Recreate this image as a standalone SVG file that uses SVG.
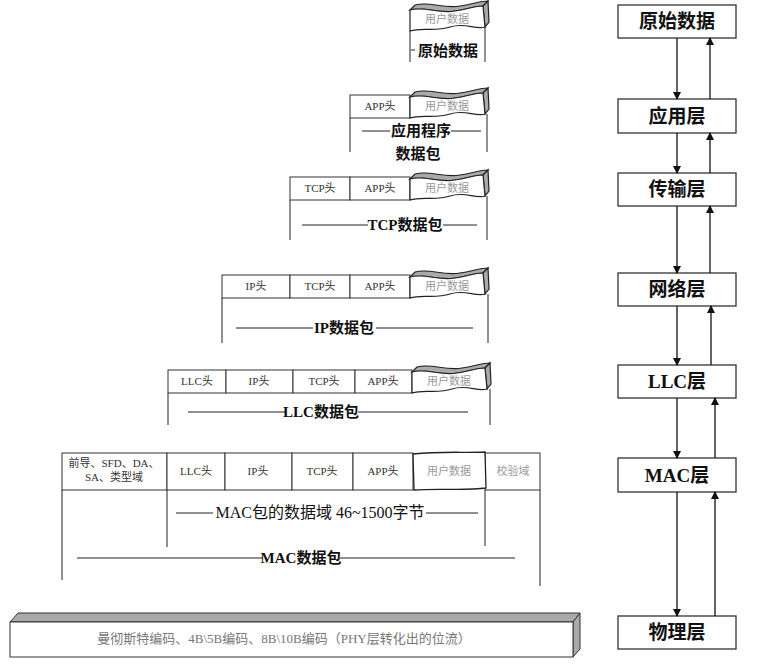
<svg xmlns="http://www.w3.org/2000/svg" width="777" height="668" viewBox="0 0 777 668">
<style>
.c{fill:#fff;stroke:#333;stroke-width:1}
.l{stroke:#222;stroke-width:1;fill:none}
.t{font-family:"Liberation Serif","Noto Sans CJK SC",serif;font-size:11px;fill:#333;text-anchor:middle}
.u{font-family:"Liberation Serif","Noto Sans CJK SC",serif;font-size:11px;fill:#999;text-anchor:middle}
.b{font-family:"Liberation Serif","Noto Sans CJK SC",serif;font-size:15px;font-weight:bold;fill:#111;text-anchor:middle}
.n{font-family:"Liberation Serif","Noto Sans CJK SC",serif;font-size:16px;fill:#111;text-anchor:middle}
.box{fill:#fff;stroke:#333;stroke-width:1.3}
.bt{font-family:"Liberation Serif","Noto Sans CJK SC",serif;font-size:19px;font-weight:bold;fill:#111;text-anchor:middle}
.a{stroke:#111;stroke-width:1.3;fill:none}
</style>
<defs>
<g id="wave">
<path d="M0,2 L5,-3 C20,-7 33,1 50,-2 C63,-4 70,-7 78,-7 L73,-2 C65,-2 58,1 45,3 C28,6 15,-2 0,2 Z" fill="#aaa" stroke="#222" stroke-width="1.2"/>
<path d="M73,-2 L78,-7 L79,14 L75,19 Z" fill="#aaa" stroke="#222" stroke-width="1.2"/>
<path d="M0,2 C15,-2 28,6 45,3 C58,1 65,-2 73,-2 L75,19 C65,22 55,14 40,19 C25,24 12,19 0,23 Z" fill="#fff" stroke="#222" stroke-width="1.2"/>
<text x="37" y="15" class="u">用户数据</text>
</g>
<marker id="ah" markerWidth="8" markerHeight="8" refX="7" refY="4" orient="auto" markerUnits="userSpaceOnUse">
<path d="M0,0 L8,4 L0,8 Z" fill="#111"/>
</marker>
</defs>

<g id="row1">
<use href="#wave" transform="translate(410,8)"/>
<line class="l" x1="410" y1="31" x2="410" y2="62"/>
<line class="l" x1="485" y1="27" x2="485" y2="62"/>
<line class="l" x1="411" y1="50" x2="415" y2="50"/>
<text x="448" y="56" class="b">原始数据</text>
</g>

<g id="row2">
<rect class="c" x="350" y="95" width="60" height="23"/>
<text x="380" y="110" class="t">APP头</text>
<use href="#wave" transform="translate(410,95)"/>
<line class="l" x1="350" y1="118" x2="350" y2="152"/>
<line class="l" x1="487" y1="114" x2="487" y2="152"/>
<line class="l" x1="362" y1="131" x2="390" y2="131"/>
<line class="l" x1="451" y1="131" x2="481" y2="131"/>
<text x="421" y="136" class="b">应用程序</text>
<text x="418" y="159" class="b">数据包</text>
</g>

<g id="row3">
<rect class="c" x="290" y="177" width="60" height="23"/>
<rect class="c" x="350" y="177" width="60" height="23"/>
<text x="320" y="192" class="t">TCP头</text>
<text x="380" y="192" class="t">APP头</text>
<use href="#wave" transform="translate(410,177)"/>
<line class="l" x1="290" y1="200" x2="290" y2="240"/>
<line class="l" x1="487" y1="196" x2="487" y2="240"/>
<line class="l" x1="302" y1="225" x2="368" y2="225"/>
<line class="l" x1="443" y1="225" x2="477" y2="225"/>
<text x="405" y="230" class="b">TCP数据包</text>
</g>

<g id="row4">
<rect class="c" x="222" y="275" width="68" height="23"/>
<rect class="c" x="290" y="275" width="60" height="23"/>
<rect class="c" x="350" y="275" width="60" height="23"/>
<text x="256" y="290" class="t">IP头</text>
<text x="320" y="290" class="t">TCP头</text>
<text x="380" y="290" class="t">APP头</text>
<use href="#wave" transform="translate(410,275)"/>
<line class="l" x1="222" y1="298" x2="222" y2="343"/>
<line class="l" x1="488" y1="294" x2="488" y2="343"/>
<line class="l" x1="236" y1="328" x2="313" y2="328"/>
<line class="l" x1="376" y1="328" x2="473" y2="328"/>
<text x="344" y="333" class="b">IP数据包</text>
</g>

<g id="row5">
<rect class="c" x="168" y="370" width="58" height="23"/>
<rect class="c" x="226" y="370" width="67" height="23"/>
<rect class="c" x="293" y="370" width="62" height="23"/>
<rect class="c" x="355" y="370" width="57" height="23"/>
<text x="197" y="385" class="t">LLC头</text>
<text x="259" y="385" class="t">IP头</text>
<text x="324" y="385" class="t">TCP头</text>
<text x="383" y="385" class="t">APP头</text>
<use href="#wave" transform="translate(412,370)"/>
<line class="l" x1="168" y1="393" x2="168" y2="425"/>
<line class="l" x1="490" y1="389" x2="490" y2="425"/>
<line class="l" x1="188" y1="412" x2="285" y2="412"/>
<line class="l" x1="358" y1="412" x2="468" y2="412"/>
<text x="321" y="417" class="b">LLC数据包</text>
</g>

<g id="row6">
<rect class="c" x="62" y="453" width="105" height="37"/>
<rect class="c" x="167" y="453" width="58" height="37"/>
<rect class="c" x="225" y="453" width="67" height="37"/>
<rect class="c" x="292" y="453" width="61" height="37" stroke-width="1.4"/>
<rect class="c" x="353" y="453" width="60" height="37"/>
<rect class="c" x="485" y="453" width="55" height="37"/>
<path d="M413,454 C440,451 465,453 485,452 L486,488 C465,491 440,488 414,490 Z" fill="#fff" stroke="#222" stroke-width="1.3"/>
<text x="114" y="467" class="t" font-size="10">前导、SFD、DA、</text>
<text x="114" y="481" class="t" font-size="10">SA、类型域</text>
<text x="196" y="475" class="t">LLC头</text>
<text x="258" y="475" class="t">IP头</text>
<text x="322" y="475" class="t">TCP头</text>
<text x="383" y="475" class="t">APP头</text>
<text x="449" y="475" class="u">用户数据</text>
<text x="513" y="475" class="u">校验域</text>
<line class="l" x1="62" y1="490" x2="62" y2="580"/>
<line class="l" x1="167" y1="490" x2="167" y2="547"/>
<line class="l" x1="485" y1="490" x2="485" y2="546"/>
<line class="l" x1="540" y1="490" x2="540" y2="586"/>
<line class="l" x1="176" y1="513" x2="213" y2="513"/>
<line class="l" x1="426" y1="513" x2="478" y2="513"/>
<text x="320" y="518" class="n">MAC包的数据域 46~1500字节</text>
<line class="l" x1="77" y1="558" x2="263" y2="558"/>
<line class="l" x1="340" y1="558" x2="515" y2="558"/>
<text x="301" y="563" class="b">MAC数据包</text>
</g>

<g id="phy-bar">
<path d="M10,622 L18,613 L580,613 L573,622 Z" fill="#aaa" stroke="#333" stroke-width="1"/>
<path d="M573,622 L580,613 L580,649 L573,657 Z" fill="#aaa" stroke="#333" stroke-width="1"/>
<rect x="10" y="622" width="563" height="35" fill="#fff" stroke="#333" stroke-width="1"/>
<text x="284" y="643" class="u" style="fill:#777;font-size:13px">曼彻斯特编码、4B\5B编码、8B\10B编码（PHY层转化出的位流）</text>
</g>

<g id="n-raw"><rect class="box" x="618" y="5" width="118" height="33"/><text x="677" y="28" class="bt">原始数据</text></g>
<g id="n-app"><rect class="box" x="618" y="99" width="118" height="34"/><text x="677" y="123" class="bt">应用层</text></g>
<g id="n-trans"><rect class="box" x="618" y="173" width="118" height="33"/><text x="677" y="196" class="bt">传输层</text></g>
<g id="n-net"><rect class="box" x="618" y="273" width="118" height="33"/><text x="677" y="296" class="bt">网络层</text></g>
<g id="n-llc"><rect class="box" x="618" y="365" width="118" height="33"/><text x="677" y="388" class="bt">LLC层</text></g>
<g id="n-mac"><rect class="box" x="618" y="458" width="118" height="34"/><text x="677" y="482" class="bt">MAC层</text></g>
<g id="n-phy"><rect class="box" x="618" y="616" width="118" height="33"/><text x="677" y="639" class="bt">物理层</text></g>

<g id="connectors">
<line class="a" x1="677" y1="38" x2="677" y2="99" marker-end="url(#ah)"/>
<line class="a" x1="710" y1="99" x2="710" y2="38" marker-end="url(#ah)"/>
<line class="a" x1="677" y1="133" x2="677" y2="173" marker-end="url(#ah)"/>
<line class="a" x1="710" y1="173" x2="710" y2="133" marker-end="url(#ah)"/>
<line class="a" x1="677" y1="206" x2="677" y2="273" marker-end="url(#ah)"/>
<line class="a" x1="710" y1="273" x2="710" y2="206" marker-end="url(#ah)"/>
<line class="a" x1="677" y1="306" x2="677" y2="365" marker-end="url(#ah)"/>
<line class="a" x1="711" y1="365" x2="711" y2="306" marker-end="url(#ah)"/>
<line class="a" x1="677" y1="398" x2="677" y2="458" marker-end="url(#ah)"/>
<line class="a" x1="715" y1="458" x2="715" y2="398" marker-end="url(#ah)"/>
<line class="a" x1="677" y1="492" x2="677" y2="616" marker-end="url(#ah)"/>
<line class="a" x1="715" y1="616" x2="715" y2="492" marker-end="url(#ah)"/>
</g>
</svg>
